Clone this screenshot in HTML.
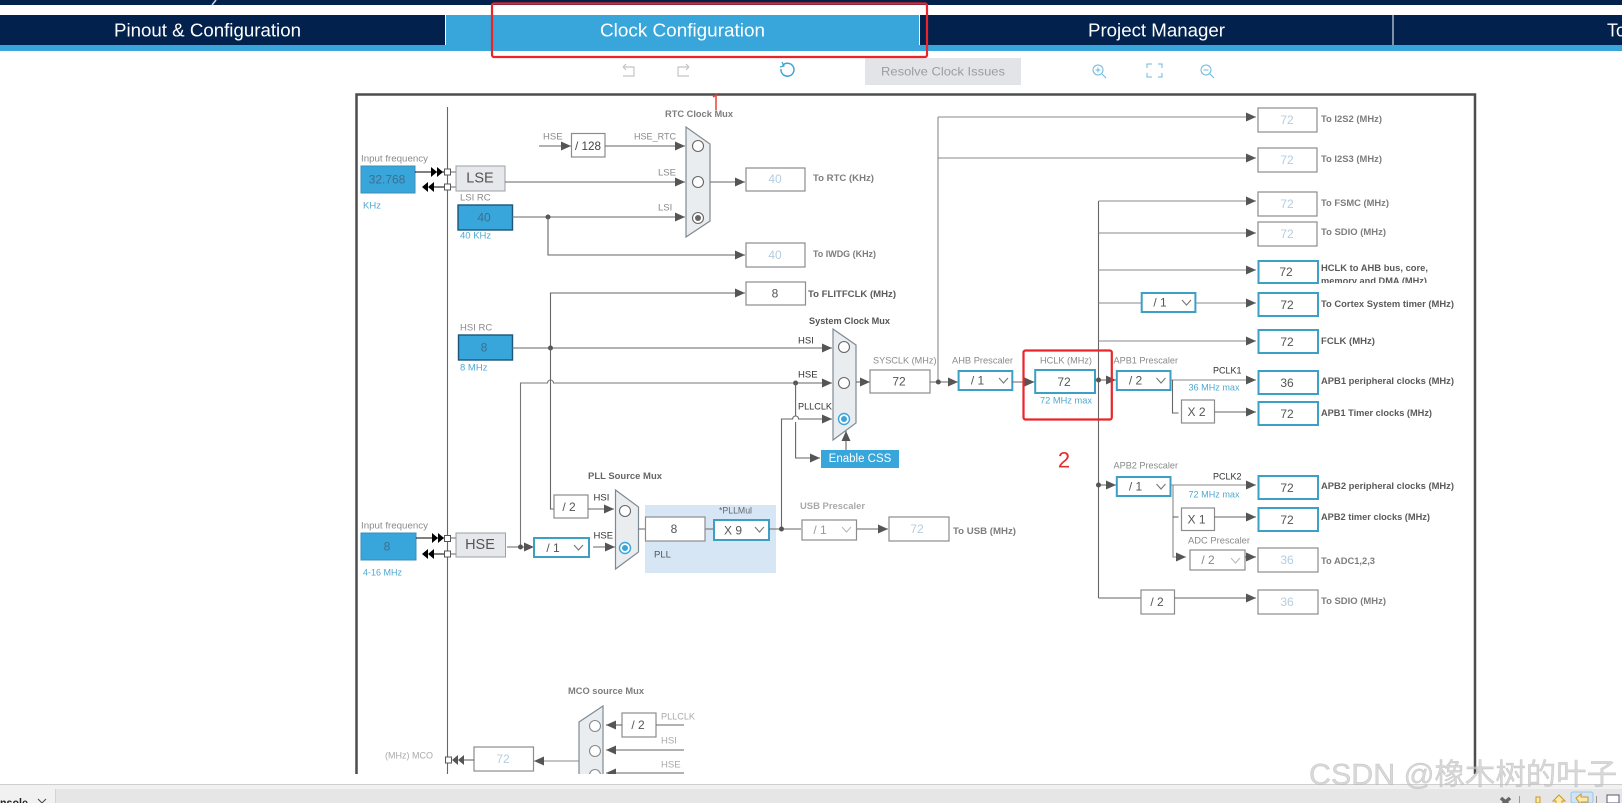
<!DOCTYPE html>
<html lang="en"><head><meta charset="utf-8"><title>Clock Configuration</title>
<style>
html,body{margin:0;padding:0;background:#fff;width:1622px;height:803px;overflow:hidden}
svg{display:block;font-family:"Liberation Sans","Noto Sans CJK SC",sans-serif}
text{dominant-baseline:central}
.l{fill:none;stroke:#666;stroke-width:1.1}
.a{fill:none;stroke:#666;stroke-width:1.1;marker-end:url(#ah)}
.g{fill:#8a8a8a;font-size:9.5px}
.gb{fill:#7d7d7d;font-size:9px;font-weight:bold}
.d{fill:#333;font-size:9.5px}
.db{fill:#5a5a5a;font-size:9.2px;font-weight:bold}
.bl{fill:#4fa9d2;font-size:9.5px}
.v{font-size:12px;fill:#555;text-anchor:middle}
.vd{font-size:12px;fill:#b4cde0;text-anchor:middle}
.b{fill:#fff;stroke:#8c8c8c;stroke-width:1.2}
.bb{fill:#fff;stroke:#3b9fc6;stroke-width:2}
.blue{fill:#38a6da;stroke:#3a8fbb;stroke-width:1}
.bluek{fill:#38a6da;stroke:#1d5578;stroke-width:1.4}
.mux{fill:#eaedf0;stroke:#7e8a92;stroke-width:1.2}
.c{fill:#fff;stroke:#666;stroke-width:1.1}
.cs{fill:#fff;stroke:#38a6da;stroke-width:1.4}
.ch{fill:none;stroke:#777;stroke-width:1.1}
.chd{fill:none;stroke:#bbb;stroke-width:1.1}
.dot{fill:#555}
.sq{fill:#fff;stroke:#555;stroke-width:1}
.hd{fill:#000}
.ic{fill:none;stroke:#6cb8dc;stroke-width:1}
.ig{fill:none;stroke:#c4c4c4;stroke-width:1.2}
.tab{fill:#fff;font-size:18px;text-anchor:middle}
</style></head><body>
<svg width="1622" height="803" viewBox="0 0 1622 803" xmlns="http://www.w3.org/2000/svg">
<defs>
<marker id="ah" markerUnits="userSpaceOnUse" markerWidth="11" markerHeight="10" refX="10" refY="5" orient="auto"><path d="M0 .5L10 5L0 9.5z" fill="#555"/></marker>
<clipPath id="cp"><rect x="350" y="90" width="1135" height="684"/></clipPath>
<clipPath id="ahbclip"><rect x="1318" y="260" width="150" height="23"/></clipPath>
<clipPath id="bot"><rect x="0" y="789" width="55" height="14"/></clipPath>
</defs>

<!-- top bars -->
<rect x="0" y="0" width="1622" height="5" fill="#02214c"/>
<path d="M216 0L212 5" stroke="#cfd8e4" stroke-width="1.5"/>
<rect x="0" y="15" width="1622" height="30" fill="#02214c"/>
<rect x="0" y="45" width="1622" height="6" fill="#38a6da"/>
<rect x="446" y="15" width="474" height="36" fill="#38a6da"/>
<path d="M445.5 15V45M919.5 15V45M1393 15V45" stroke="#fff" stroke-width="1"/>
<text class="tab" x="207.500" y="30.500" textLength="187" lengthAdjust="spacingAndGlyphs">Pinout &amp; Configuration</text>
<text class="tab" x="682.500" y="30.500" textLength="165" lengthAdjust="spacingAndGlyphs">Clock Configuration</text>
<text class="tab" x="1156.500" y="30.500" textLength="137" lengthAdjust="spacingAndGlyphs">Project Manager</text>
<text class="tab" x="1607" y="30.500" style="text-anchor:start">To</text>

<!-- toolbar -->
<g class="ig"><path d="M623 67h11v9h-11M623 67l3-3M623 67l3 3"/><path d="M689 67h-11v9h11M689 67l-3-3M689 67l-3 3"/></g>
<path d="M782.500 65.500A6.500 6.500 0 1 1 781 69" style="fill:none;stroke:#3ba6d6;stroke-width:1.500"/><path d="M782 62l2 4-4 1" style="fill:none;stroke:#3ba6d6;stroke-width:1.200"/>
<rect x="865" y="58" width="156" height="27" fill="#e2e4e7"/>
<text x="943" y="71.500" font-size="12" fill="#9a9da1" text-anchor="middle" textLength="124" lengthAdjust="spacingAndGlyphs">Resolve Clock Issues</text>
<g class="ic"><circle cx="1098" cy="70" r="5"/><path d="M1102 74l4 4M1095.500 70h5M1098 67.500v5"/>
<path d="M1147 68v-4h5M1158 64h4v4M1147 73v4h5M1158 77h4v-4"/>
<circle cx="1206" cy="70" r="5"/><path d="M1210 74l4 4M1203.500 70h5"/></g>

<!-- frame -->
<g clip-path="url(#cp)">
<path d="M356.500 774V94.500H1475V774" fill="none" stroke="#4d4d4d" stroke-width="2.500"/>
<path d="M447.500 107V774" class="l"/>

<!-- input 1 -->
<text class="g" x="361" y="159" textLength="67" lengthAdjust="spacingAndGlyphs">Input frequency</text>
<rect class="blue" x="361" y="166" width="54" height="27"/>
<text class="v" x="387" y="179.500" style="fill:#3d6f8e">32.768</text>
<text class="bl" x="363" y="206">KHz</text>
<path d="M415 172H444M432 187H444" stroke="#000" stroke-width="1"/>
<path d="M431 167l6 5l-6 5zM437 167l6 5l-6 5zM428 182l-6 5l6 5zM434 182l-6 5l6 5z" class="hd"/>
<rect class="sq" x="444.500" y="169" width="6" height="6"/><rect class="sq" x="444.500" y="184" width="6" height="6"/>
<path d="M450 172h6M450 187h6" class="l"/>
<rect x="456" y="166" width="49" height="25" fill="#e6e8eb" stroke="#9aa0a5"/>
<text x="480" y="178.500" font-size="14.500" fill="#555" text-anchor="middle">LSE</text>
<text class="g" x="460" y="198">LSI RC</text>
<rect class="bluek" x="458" y="205" width="54.500" height="25"/>
<text class="v" x="484" y="217.500" style="fill:#3d6f8e">40</text>
<text class="bl" x="460" y="236">40 KHz</text>

<!-- RTC -->
<text class="gb" x="665" y="114" textLength="68" lengthAdjust="spacingAndGlyphs">RTC Clock Mux</text>
<text class="g" x="543" y="137">HSE</text>
<path class="a" d="M539 146H571"/>
<rect class="b" x="571.500" y="133.500" width="33.500" height="23.500"/>
<text class="v" x="588" y="146" style="fill:#444" textLength="26" lengthAdjust="spacingAndGlyphs">/ 128</text>
<text class="g" x="634" y="137" textLength="42" lengthAdjust="spacingAndGlyphs">HSE_RTC</text>
<path class="a" d="M605 146H685"/>
<text class="g" x="658" y="173">LSE</text>
<path class="a" d="M505 182H685"/>
<text class="g" x="658" y="208">LSI</text>
<path class="a" d="M512 217H685"/>
<circle class="dot" cx="548" cy="217" r="2.500"/>
<path class="a" d="M548 217V255H745"/>
<polygon class="mux" points="686,127 710,144 710,221 686,237"/>
<circle class="c" cx="698" cy="146" r="5.500"/><circle class="c" cx="698" cy="182" r="5.500"/><circle class="c" cx="698" cy="218" r="5.500"/><circle cx="698" cy="218" r="3" fill="#666"/>
<path class="a" d="M710 182H745"/>
<rect class="b" x="746" y="168" width="59" height="23"/><text class="vd" x="775" y="179">40</text>
<text class="gb" x="813" y="178" textLength="61" lengthAdjust="spacingAndGlyphs">To RTC (KHz)</text>
<rect class="b" x="746" y="243" width="59" height="24"/><text class="vd" x="775" y="255">40</text>
<text class="gb" x="813" y="254" textLength="63" lengthAdjust="spacingAndGlyphs">To IWDG (KHz)</text>

<!-- FLITFCLK / HSI -->
<path class="a" d="M550.500 348V293H745"/>
<rect class="b" x="746" y="282" width="59.500" height="23"/><text class="v" x="775" y="293.500">8</text>
<text class="db" x="808" y="294" textLength="88" lengthAdjust="spacingAndGlyphs">To FLITFCLK (MHz)</text>
<text class="g" x="460" y="328">HSI RC</text>
<rect class="bluek" x="458.500" y="335" width="54" height="25"/>
<text class="v" x="484" y="347.500" style="fill:#3d6f8e">8</text>
<text class="bl" x="460" y="368">8 MHz</text>
<path class="a" d="M512 348H832"/>
<circle class="dot" cx="550.500" cy="348" r="2.500"/>
<path d="M550.500 348V509H554" class="l"/>
<!-- HSE long line -->
<path class="l" d="M520.500 547V383H547.500A3 3 0 0 1 553.500 383H795.600" style="stroke:#777"/>
<path class="a" d="M795 383H832"/>
<circle class="dot" cx="795.600" cy="383" r="2.500"/>
<path class="l" d="M795.600 383V416M795.600 422V423"/>
<path class="a" d="M795.600 423V458H820"/>
<path class="a" d="M781.500 528V419H792.600A3 3 0 0 1 798.600 419H832"/>
<text class="gb" x="809" y="321" textLength="81" lengthAdjust="spacingAndGlyphs" style="fill:#555">System Clock Mux</text>
<text class="d" x="798" y="341">HSI</text><text class="d" x="798" y="375">HSE</text>
<text class="d" x="798" y="407" textLength="34" lengthAdjust="spacingAndGlyphs">PLLCLK</text>
<polygon class="mux" points="833,329 856,345 856,423 833,440"/>
<circle class="c" cx="844" cy="347" r="5.500"/><circle class="c" cx="844" cy="383" r="5.500"/>
<circle class="cs" cx="844" cy="419" r="5.500"/><circle cx="844" cy="419" r="3" fill="#38a6da"/>
<rect x="821" y="450" width="78" height="18" fill="#38a6da"/>
<text x="860" y="459" font-size="11.500" fill="#fff" text-anchor="middle">Enable CSS</text>
<path class="a" d="M846 450V431"/>
<path class="a" d="M856 382H870"/>

<!-- SYSCLK / AHB -->
<text class="g" x="873" y="361" textLength="63.500" lengthAdjust="spacingAndGlyphs">SYSCLK (MHz)</text>
<rect class="b" x="870" y="370" width="60" height="23"/><text class="v" x="899" y="381.500">72</text>
<path class="l" d="M938 117V382" style="stroke:#8a8a8a"/>
<path class="a" d="M938 117H1256" style="stroke:#888"/><path class="a" d="M938 158H1256" style="stroke:#888"/>
<path class="a" d="M930 382H958"/><circle class="dot" cx="938.300" cy="382" r="2.500"/>
<text class="g" x="952" y="361" textLength="61" lengthAdjust="spacingAndGlyphs">AHB Prescaler</text>
<rect class="bb" x="958.600" y="371" width="53.700" height="19"/><text class="v" x="977.500" y="380.500">/ 1</text><path class="ch" d="M999 378l4.500 5l4.500-5"/>
<path class="a" d="M1012.300 382H1034.500"/>
<text class="g" x="1040" y="361" textLength="52" lengthAdjust="spacingAndGlyphs">HCLK (MHz)</text>
<rect class="bb" x="1035.200" y="370" width="59.800" height="23"/><text class="v" x="1064" y="382">72</text>
<text class="bl" x="1040" y="401" textLength="52" lengthAdjust="spacingAndGlyphs">72 MHz max</text>

<!-- bus -->
<path class="l" d="M1098.500 201V598"/>
<path class="a" d="M1095 380H1116"/><circle class="dot" cx="1098.500" cy="380" r="2.500"/>
<path class="a" d="M1098.500 485H1116"/><circle class="dot" cx="1098.500" cy="485" r="2.500"/>
<path class="a" d="M1098.500 201H1256" style="stroke:#888"/><path class="a" d="M1098.500 233H1256" style="stroke:#888"/>
<path class="a" d="M1098.500 270H1256" style="stroke:#888"/><path class="a" d="M1195.400 303H1256" style="stroke:#888"/><path class="l" d="M1098.500 303H1142" style="stroke:#888"/>
<path class="a" d="M1098.500 341H1256" style="stroke:#888"/>

<!-- outputs top -->
<rect class="b" x="1258" y="108" width="59" height="24"/><text class="vd" x="1287" y="120">72</text><text class="gb" x="1321" y="119" textLength="61" lengthAdjust="spacingAndGlyphs">To I2S2 (MHz)</text>
<rect class="b" x="1258" y="148" width="59" height="24"/><text class="vd" x="1287" y="160">72</text><text class="gb" x="1321" y="159" textLength="61" lengthAdjust="spacingAndGlyphs">To I2S3 (MHz)</text>
<rect class="b" x="1258" y="192" width="59" height="24"/><text class="vd" x="1287" y="204">72</text><text class="gb" x="1321" y="203" textLength="68" lengthAdjust="spacingAndGlyphs">To FSMC (MHz)</text>
<rect class="b" x="1258" y="222" width="59" height="24"/><text class="vd" x="1287" y="234">72</text><text class="gb" x="1321" y="232" textLength="65" lengthAdjust="spacingAndGlyphs">To SDIO (MHz)</text>

<rect class="bb" x="1258.500" y="261" width="59.500" height="22"/><text class="v" x="1286" y="272">72</text>
<text class="db" x="1321" y="268" textLength="107" lengthAdjust="spacingAndGlyphs">HCLK to AHB bus, core,</text>
<g clip-path="url(#ahbclip)"><text class="db" x="1321" y="281" textLength="106" lengthAdjust="spacingAndGlyphs">memory and DMA (MHz)</text></g>
<rect class="bb" x="1141.700" y="293" width="53.700" height="19"/><text class="v" x="1160" y="302.500">/ 1</text><path class="ch" d="M1182 300l4.500 5l4.500-5"/>
<rect class="bb" x="1258.500" y="293" width="59.500" height="23"/><text class="v" x="1287" y="305">72</text>
<text class="db" x="1321" y="304" textLength="133" lengthAdjust="spacingAndGlyphs">To Cortex System timer (MHz)</text>
<rect class="bb" x="1258.500" y="330" width="59.500" height="23"/><text class="v" x="1287" y="342">72</text>
<text class="db" x="1321" y="341" textLength="54" lengthAdjust="spacingAndGlyphs">FCLK (MHz)</text>

<!-- APB1 -->
<text class="g" x="1113.500" y="361" textLength="64.500" lengthAdjust="spacingAndGlyphs">APB1 Prescaler</text>
<rect class="bb" x="1116.800" y="371" width="53.700" height="19"/><text class="v" x="1135.500" y="380.500">/ 2</text><path class="ch" d="M1156.500 378l4.500 5l4.500-5"/>
<path class="a" d="M1170.500 380H1256" style="stroke:#888"/>
<text class="d" x="1213" y="371" textLength="28.500" lengthAdjust="spacingAndGlyphs">PCLK1</text>
<text class="bl" x="1188.500" y="388" textLength="51" lengthAdjust="spacingAndGlyphs">36 MHz max</text>
<rect class="bb" x="1258.500" y="371" width="59.500" height="23"/><text class="v" x="1287" y="383">36</text>
<text class="db" x="1321" y="381" textLength="133" lengthAdjust="spacingAndGlyphs">APB1 peripheral clocks (MHz)</text>
<path class="l" d="M1172.500 380V413H1178.500"/>
<rect class="b" x="1181.500" y="400" width="33" height="23"/><text class="v" x="1196.500" y="412">X 2</text>
<path class="a" d="M1214.500 412H1256"/>
<rect class="bb" x="1258.500" y="402" width="59.500" height="23"/><text class="v" x="1287" y="414">72</text>
<text class="db" x="1321" y="413" textLength="111" lengthAdjust="spacingAndGlyphs">APB1 Timer clocks (MHz)</text>

<!-- APB2 -->
<text class="g" x="1113.500" y="466" textLength="64.500" lengthAdjust="spacingAndGlyphs">APB2 Prescaler</text>
<rect class="bb" x="1116.800" y="477" width="53.700" height="19"/><text class="v" x="1135.500" y="486.500">/ 1</text><path class="ch" d="M1156.500 484l4.500 5l4.500-5"/>
<path class="a" d="M1170.500 485H1256" style="stroke:#888"/>
<text class="d" x="1213" y="477" textLength="28.500" lengthAdjust="spacingAndGlyphs">PCLK2</text>
<text class="bl" x="1188.500" y="495" textLength="51" lengthAdjust="spacingAndGlyphs">72 MHz max</text>
<rect class="bb" x="1258.500" y="476" width="59.500" height="23"/><text class="v" x="1287" y="488">72</text>
<text class="db" x="1321" y="486" textLength="133" lengthAdjust="spacingAndGlyphs">APB2 peripheral clocks (MHz)</text>
<path class="a" d="M1173 485V557H1186" style="stroke:#888"/>
<path class="l" d="M1173 517H1178.500"/>
<rect class="b" x="1181.500" y="508" width="33" height="22.500"/><text class="v" x="1196.500" y="519.500">X 1</text>
<path class="a" d="M1214.500 517H1256"/>
<rect class="bb" x="1258.500" y="508" width="59.500" height="23"/><text class="v" x="1287" y="520">72</text>
<text class="db" x="1321" y="517" textLength="109" lengthAdjust="spacingAndGlyphs">APB2 timer clocks (MHz)</text>
<text class="g" x="1188" y="541" textLength="62" lengthAdjust="spacingAndGlyphs">ADC Prescaler</text>
<rect class="b" x="1190" y="550" width="55" height="20"/><text class="v" x="1208" y="560" style="fill:#888">/ 2</text><path class="chd" d="M1231 558l4.500 5l4.500-5"/>
<path class="a" d="M1245 557H1256"/>
<rect class="b" x="1258" y="548" width="60" height="24"/><text class="vd" x="1287" y="560">36</text>
<text class="gb" x="1321" y="561" textLength="54" lengthAdjust="spacingAndGlyphs">To ADC1,2,3</text>
<path class="l" d="M1098.500 598H1141"/>
<rect class="b" x="1141" y="590" width="33.500" height="24"/><text class="v" x="1157" y="602">/ 2</text>
<path class="a" d="M1174.500 598H1256"/>
<rect class="b" x="1258" y="590" width="60" height="24"/><text class="vd" x="1287" y="602">36</text>
<text class="gb" x="1321" y="601" textLength="65" lengthAdjust="spacingAndGlyphs">To SDIO (MHz)</text>

<!-- PLL -->
<text class="gb" x="588" y="476" textLength="74" lengthAdjust="spacingAndGlyphs" style="fill:#666">PLL Source Mux</text>
<rect class="b" x="554" y="495" width="34" height="23"/><text class="v" x="569" y="507">/ 2</text>
<path class="a" d="M588 509H614"/>
<text class="d" x="593.500" y="498">HSI</text><text class="d" x="593.500" y="536">HSE</text>
<polygon class="mux" points="615.500,490 638.500,507 638.500,552 615.500,569"/>
<circle class="c" cx="625" cy="511" r="5.500"/>
<circle class="cs" cx="625" cy="548" r="5.500"/><circle cx="625" cy="548" r="3" fill="#38a6da"/>
<rect x="645" y="505" width="131" height="68" fill="#d6e6f5"/>
<path class="l" d="M638.500 529H646M705 529H714"/>
<rect class="b" x="645.500" y="517" width="59.500" height="24"/><text class="v" x="674" y="529">8</text>
<text class="g" x="719" y="511" textLength="33" lengthAdjust="spacingAndGlyphs" style="fill:#666">*PLLMul</text>
<text class="d" x="654" y="555" style="fill:#555">PLL</text>
<rect class="bb" x="714" y="520" width="55" height="20"/><text class="v" x="733" y="530.500">X 9</text><path class="ch" d="M755 527l4.500 5l4.500-5"/>
<path class="l" d="M769 529H801"/><circle class="dot" cx="781.500" cy="529" r="2.500"/>
<text class="g" x="800" y="506" textLength="65" lengthAdjust="spacingAndGlyphs" style="fill:#aaa;font-weight:bold;font-size:9px">USB Prescaler</text>
<rect class="b" x="802" y="520" width="54.500" height="20"/><text class="v" x="820" y="530" style="fill:#999">/ 1</text><path class="chd" d="M842 527l4.500 5l4.500-5"/>
<path class="a" d="M857 529H888"/>
<rect class="b" x="889" y="517" width="60" height="24"/><text class="vd" x="917" y="529">72</text>
<text class="gb" x="953" y="531" textLength="63" lengthAdjust="spacingAndGlyphs">To USB (MHz)</text>

<!-- input 2 -->
<text class="g" x="361" y="526" textLength="67" lengthAdjust="spacingAndGlyphs">Input frequency</text>
<rect class="blue" x="361" y="533" width="55" height="27"/>
<text class="v" x="387" y="546.500" style="fill:#3d6f8e">8</text>
<text class="bl" x="363" y="573" textLength="39" lengthAdjust="spacingAndGlyphs">4-16 MHz</text>
<path d="M416 538H444M432 554H444" stroke="#000" stroke-width="1"/>
<path d="M432 533l6 5l-6 5zM438 533l6 5l-6 5zM428 549l-6 5l6 5zM434 549l-6 5l6 5z" class="hd"/>
<rect class="sq" x="444.500" y="535.500" width="6" height="6"/><rect class="sq" x="444.500" y="551" width="6" height="6"/>
<path d="M450 538h6M450 554h6" class="l"/>
<rect x="456" y="533" width="49.500" height="24" fill="#e6e8eb" stroke="#9aa0a5"/>
<text x="480" y="545" font-size="14.500" fill="#555" text-anchor="middle">HSE</text>
<path class="a" d="M507 547H534"/><circle class="dot" cx="520.500" cy="547" r="2.500"/>
<rect class="bb" x="534" y="538" width="55" height="19"/><text class="v" x="553" y="548">/ 1</text><path class="ch" d="M574 545l4.500 5l4.500-5"/>
<path class="a" d="M593 547H615"/>

<!-- MCO -->
<text class="gb" x="568" y="691" textLength="76" lengthAdjust="spacingAndGlyphs">MCO source Mux</text>
<polygon class="mux" points="579,722 603,706 603,800 579,800"/>
<circle class="c" cx="595" cy="726" r="5.500" style="stroke:#888"/><circle class="c" cx="595" cy="751" r="5.500" style="stroke:#888"/><circle class="c" cx="595" cy="775" r="5.500" style="stroke:#888"/>
<rect class="b" x="622" y="713" width="34" height="24"/><text class="v" x="638" y="725">/ 2</text>
<path class="l" d="M656 725H684"/>
<path class="a" d="M622 725H606"/><path class="a" d="M684 750H606"/><path class="a" d="M684 773H606"/>
<text class="g" x="661" y="717" textLength="34" lengthAdjust="spacingAndGlyphs" style="fill:#aaa">PLLCLK</text>
<text class="g" x="661" y="741" style="fill:#aaa">HSI</text><text class="g" x="661" y="765" style="fill:#aaa">HSE</text>
<path class="a" d="M579 761H534" style="stroke:#888"/>
<rect class="b" x="474" y="747" width="59.500" height="24"/><text class="vd" x="503" y="759">72</text>
<path class="l" d="M474 760H460"/>
<path d="M464 755l-6 5l6 5zM458 755l-6 5l6 5z" fill="#555"/>
<rect class="sq" x="445.500" y="757" width="6" height="6"/>
<text class="g" x="385" y="756" textLength="48" lengthAdjust="spacingAndGlyphs" style="fill:#aaa">(MHz) MCO</text>
</g>

<!-- red annotations -->
<rect x="492" y="3.500" width="435" height="53.500" rx="2" fill="none" stroke="#e8262a" stroke-width="2.200"/>
<rect x="1023.500" y="350.500" width="88.300" height="69" rx="2" fill="none" stroke="#e8262a" stroke-width="2.200"/>
<path d="M713 97l3-2V110" fill="none" stroke="#e8403a" stroke-width="1.500"/>
<text x="1064" y="460" font-size="22" fill="#e0302c" text-anchor="middle">2</text>

<!-- bottom bar -->
<rect x="0" y="784" width="1622" height="19" fill="#f1f1f1"/>
<rect x="0" y="784" width="1622" height="1" fill="#cfcfcf"/>
<rect x="0" y="789" width="1622" height="14" fill="#e6e6e6"/>
<rect x="0" y="789" width="55" height="14" fill="#f1f1f1"/>
<rect x="55" y="789" width="1" height="14" fill="#d4d4d4"/>
<g clip-path="url(#bot)"><text x="0" y="803" font-size="12" font-weight="bold" fill="#222" textLength="28" lengthAdjust="spacingAndGlyphs">nsole</text></g>
<path d="M38 799l8 8M46 799l-8 8" stroke="#444" stroke-width="1"/>
<path d="M1501 798l9 8M1510 798l-9 8" stroke="#666" stroke-width="3.500"/>
<path d="M1519.500 796V803M1596.500 796V803" stroke="#999"/>
<rect x="1571" y="792" width="22" height="11" rx="2" fill="#cfe4f5" stroke="#9cc5e6"/>
<path d="M1536 797h4v6h-4z" fill="#ffe9a8" stroke="#c9962f"/>
<path d="M1559 795l6 6h-3v3h-6v-3h-3z" fill="#ffe9a8" stroke="#c9962f"/>
<path d="M1576 798l5-4v3h7v5h-7v3z" fill="#ffe9a8" stroke="#c9962f"/>
<rect x="1607" y="795" width="12" height="8" fill="#fff" stroke="#557"/>

<!-- watermark -->
<text x="1309" y="775" font-size="29.500" fill="#c8c8c8" fill-opacity=".7" stroke="#aaa" stroke-width=".4" stroke-opacity=".6" textLength="308" lengthAdjust="spacingAndGlyphs">CSDN @橡木树的叶子</text>
</svg>
</body></html>
